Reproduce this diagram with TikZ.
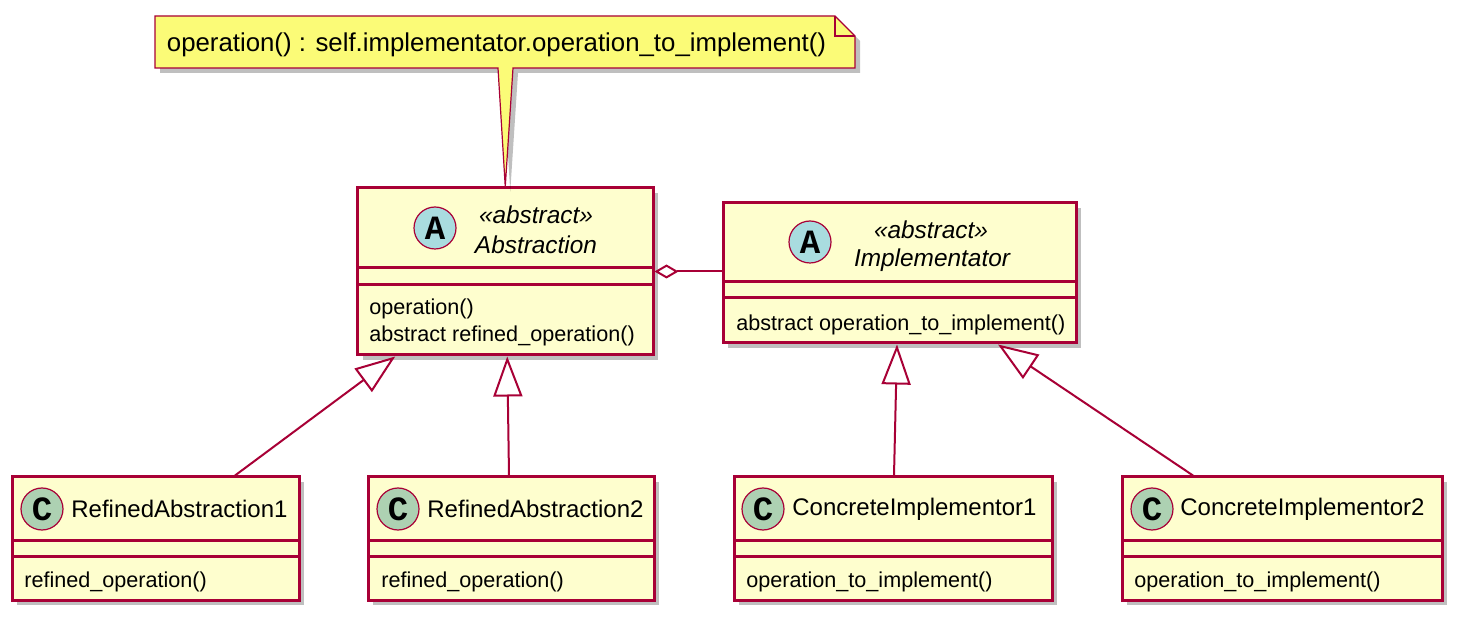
\documentclass[tikz,border=0pt]{standalone}
\usepackage{fontspec}
\setmainfont{Liberation Sans}
\newfontfamily\spotfont{Liberation Mono}
\usetikzlibrary{arrows.meta, shadows}

\definecolor{umlred}{HTML}{A80036}
\definecolor{umlfill}{HTML}{FEFECE}
\definecolor{umlnote}{HTML}{FBFB77}
\definecolor{spotA}{HTML}{A9DCDF}
\definecolor{spotC}{HTML}{ADD1B2}

\begin{document}
\begin{tikzpicture}[x=0.5pt, y=-0.5pt,
    umlshadow/.style={drop shadow={shadow xshift=2.5pt, shadow yshift=-2.5pt, opacity=0.25, fill=black}},
    classbox/.style={draw=umlred, fill=umlfill, line width=1.5pt, umlshadow, inner sep=0pt},
    divider/.style={draw=umlred, line width=1.5pt},
    notebox/.style={draw=umlred, fill=umlnote, line width=0.6pt, line join=miter},
    spot/.style={circle, draw=umlred, line width=0.6pt, minimum size=21pt, inner sep=0pt,
        font=\spotfont\bfseries\fontsize{17}{17}\selectfont},
    title/.style={font=\fontsize{12}{14}\selectfont, inner sep=0pt, anchor=west},
    stereo/.style={font=\itshape\fontsize{12.2}{14}\selectfont, inner sep=0pt},
    member/.style={font=\fontsize{10.8}{12}\selectfont, inner sep=0pt, anchor=west},
    link/.style={draw=umlred, line width=1pt},
    extends/.style={link, -{Triangle[open, fill=white, length=20pt, width=14.5pt]}},
    aggregation/.style={link, {Diamond[open, fill=white, length=12pt, width=7pt]}-},
  ]
                \path[use as bounding box, fill=white] (0,0) rectangle (1460,619);

                % abstract classes
                \node[classbox, minimum width=147.75pt, minimum height=83.5pt] (Abs) at (505.25,271.5) {};
                \draw[divider] (357.5,268) -- (653,268);
                \draw[divider] (357.5,284.5) -- (653,284.5);
                \node[spot, fill=spotA] (AbsSpot) at (435,228) {A};
                \node[stereo] (AbsStereo) at (536,215) {«abstract»};
                \node[stereo] (AbsName) at (536,245) {Abstraction};
                \node[member] (AbsOp1) at (369,309) {operation()};
                \node[member] (AbsOp2) at (369,336) {abstract refined\_operation()};

                \node[classbox, minimum width=176.5pt, minimum height=70pt] (Imp) at (899.5,273) {};
                \draw[divider] (723,282) -- (1076,282);
                \draw[divider] (723,298) -- (1076,298);
                \node[spot, fill=spotA] (ImpSpot) at (810,242) {A};
                \node[stereo] (ImpStereo) at (931,230) {«abstract»};
                \node[stereo] (ImpName) at (932,260) {Implementator};
                \node[member] (ImpOp1) at (736,325) {abstract operation\_to\_implement()};

                % concrete classes
                \node[classbox, minimum width=143.5pt, minimum height=61.5pt] (Ref1) at (155.5,538.5) {};
                \draw[divider] (12,540) -- (299,540);
                \draw[divider] (12,556.5) -- (299,556.5);
                \node[spot, fill=spotC] (Ref1Spot) at (42,509) {C};
                \node[title] (Ref1Name) at (71,509) {RefinedAbstraction1};
                \node[member] (Ref1Op1) at (24,582) {refined\_operation()};

                \node[classbox, minimum width=143pt, minimum height=61.5pt] (Ref2) at (511,538.5) {};
                \draw[divider] (368,540) -- (654,540);
                \draw[divider] (368,556.5) -- (654,556.5);
                \node[spot, fill=spotC] (Ref2Spot) at (398,509) {C};
                \node[title] (Ref2Name) at (427,509) {RefinedAbstraction2};
                \node[member] (Ref2Op1) at (381,582) {refined\_operation()};

                \node[classbox, minimum width=159pt, minimum height=61.5pt] (Con1) at (893,538.5) {};
                \draw[divider] (734,540) -- (1052,540);
                \draw[divider] (734,556.5) -- (1052,556.5);
                \node[spot, fill=spotC] (Con1Spot) at (763,509) {C};
                \node[title] (Con1Name) at (792,509) {ConcreteImplementor1};
                \node[member] (Con1Op1) at (746,582) {operation\_to\_implement()};

                \node[classbox, minimum width=160pt, minimum height=61.5pt] (Con2) at (1282,538.5) {};
                \draw[divider] (1122,540) -- (1442,540);
                \draw[divider] (1122,556.5) -- (1442,556.5);
                \node[spot, fill=spotC] (Con2Spot) at (1152,509) {C};
                \node[title] (Con2Name) at (1180,509) {ConcreteImplementor2};
                \node[member] (Con2Op1) at (1134,582) {operation\_to\_implement()};

                % note
                \draw[notebox, umlshadow] (155,16) -- (835,16) -- (855,36) -- (855,68) -- (513,68)
                    -- (Abs.north) -- (498,68) -- (155,68) -- cycle;
                \draw[notebox, fill=none] (835,16) -- (835,36) -- (855,36);
                \node[font=\fontsize{12.9}{15}\selectfont, inner sep=0pt] (Note) at (496.5,45)
                    {operation() : self.implementator.operation\_to\_implement()};

                % relations
                \draw[aggregation] (Abs.east) -- (Abs.east -| Imp.west);

                \draw[extends] ([xshift=39.75pt]Ref1.north) -- ([xshift=-55pt]Abs.south);
                \draw[extends] ([xshift=-1pt]Ref2.north) -- ([xshift=1pt]Abs.south);
                \draw[extends] ([xshift=0.5pt]Con1.north) -- ([xshift=-1.25pt]Imp.south);
                \draw[extends] ([xshift=-44.5pt]Con2.north) -- ([xshift=49.25pt]Imp.south);
\end{tikzpicture}
\end{document}
